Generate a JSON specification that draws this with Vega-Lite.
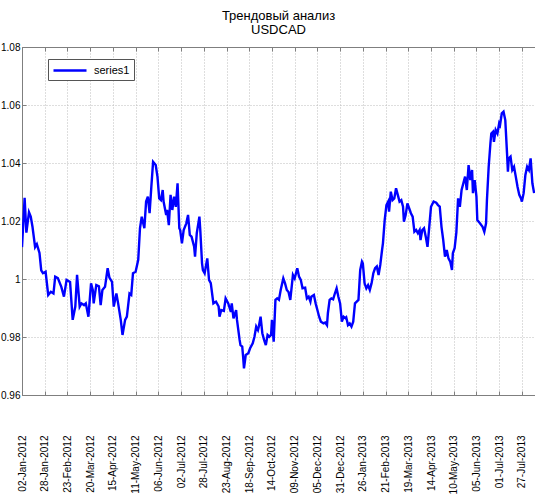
{
  "$schema": "https://vega.github.io/schema/vega-lite/v6.json",
  "width": 513,
  "height": 348,
  "autosize": {"type": "none"},
  "padding": {"left": 22, "top": 47, "right": 0, "bottom": 100},
  "background": "white",
  "config": {
    "font": "Liberation Sans",
    "view": {"stroke": "#7f7f7f", "strokeWidth": 1},
    "axis": {
      "domainColor": "#7f7f7f",
      "tickColor": "#7f7f7f",
      "gridColor": "#bdbdbd",
      "gridDash": [1, 2],
      "gridWidth": 1,
      "labelColor": "#000000",
      "labelFont": "Liberation Sans",
      "labelFontSize": 10,
      "tickSize": -4,
      "title": null
    }
  },
  "title": {
    "text": ["Трендовый анализ", "USDCAD"],
    "fontSize": 13,
    "fontWeight": "normal",
    "font": "Liberation Sans",
    "lineHeight": 14,
    "offset": 5,
    "anchor": "middle",
    "color": "#000000"
  },
  "data": {
    "values": [
      {"date": "2012-01-02", "value": 1.011},
      {"date": "2012-01-05", "value": 1.028},
      {"date": "2012-01-07", "value": 1.016},
      {"date": "2012-01-10", "value": 1.023},
      {"date": "2012-01-12", "value": 1.0215},
      {"date": "2012-01-14", "value": 1.018},
      {"date": "2012-01-17", "value": 1.011},
      {"date": "2012-01-19", "value": 1.012},
      {"date": "2012-01-22", "value": 1.009},
      {"date": "2012-01-24", "value": 1.003},
      {"date": "2012-01-26", "value": 1.002},
      {"date": "2012-01-29", "value": 1.0025},
      {"date": "2012-02-01", "value": 0.9945},
      {"date": "2012-02-04", "value": 0.9956},
      {"date": "2012-02-07", "value": 0.995},
      {"date": "2012-02-09", "value": 1.0008},
      {"date": "2012-02-12", "value": 1.0003},
      {"date": "2012-02-16", "value": 0.9973},
      {"date": "2012-02-19", "value": 0.9939},
      {"date": "2012-02-22", "value": 0.9997},
      {"date": "2012-02-26", "value": 0.999},
      {"date": "2012-02-29", "value": 0.9859},
      {"date": "2012-03-03", "value": 0.9905},
      {"date": "2012-03-05", "value": 1.0014},
      {"date": "2012-03-08", "value": 0.9905},
      {"date": "2012-03-10", "value": 0.9916},
      {"date": "2012-03-13", "value": 0.991},
      {"date": "2012-03-15", "value": 0.9916},
      {"date": "2012-03-18", "value": 0.987},
      {"date": "2012-03-21", "value": 0.9985},
      {"date": "2012-03-23", "value": 0.9962},
      {"date": "2012-03-24", "value": 0.9916},
      {"date": "2012-03-27", "value": 0.9979},
      {"date": "2012-03-30", "value": 0.9975},
      {"date": "2012-04-01", "value": 0.991},
      {"date": "2012-04-03", "value": 0.9962},
      {"date": "2012-04-06", "value": 0.9973},
      {"date": "2012-04-09", "value": 1.0037},
      {"date": "2012-04-11", "value": 1.0005},
      {"date": "2012-04-14", "value": 0.999},
      {"date": "2012-04-16", "value": 0.9905},
      {"date": "2012-04-19", "value": 0.995},
      {"date": "2012-04-21", "value": 0.9916},
      {"date": "2012-04-24", "value": 0.9859},
      {"date": "2012-04-26", "value": 0.9807},
      {"date": "2012-04-29", "value": 0.9859},
      {"date": "2012-05-01", "value": 0.987},
      {"date": "2012-05-04", "value": 0.995},
      {"date": "2012-05-06", "value": 0.9945},
      {"date": "2012-05-08", "value": 1.002},
      {"date": "2012-05-11", "value": 1.0025},
      {"date": "2012-05-14", "value": 1.0066},
      {"date": "2012-05-16", "value": 1.0175},
      {"date": "2012-05-18", "value": 1.0215},
      {"date": "2012-05-21", "value": 1.0175},
      {"date": "2012-05-23", "value": 1.0267},
      {"date": "2012-05-25", "value": 1.0284},
      {"date": "2012-05-27", "value": 1.0227},
      {"date": "2012-05-29", "value": 1.0318},
      {"date": "2012-05-31", "value": 1.0404},
      {"date": "2012-06-03", "value": 1.0393},
      {"date": "2012-06-05", "value": 1.0353},
      {"date": "2012-06-07", "value": 1.0278},
      {"date": "2012-06-09", "value": 1.0272},
      {"date": "2012-06-11", "value": 1.0307},
      {"date": "2012-06-12", "value": 1.0267},
      {"date": "2012-06-15", "value": 1.0221},
      {"date": "2012-06-16", "value": 1.0238},
      {"date": "2012-06-18", "value": 1.0186},
      {"date": "2012-06-20", "value": 1.029},
      {"date": "2012-06-22", "value": 1.0238},
      {"date": "2012-06-24", "value": 1.0284},
      {"date": "2012-06-26", "value": 1.0249},
      {"date": "2012-06-28", "value": 1.033},
      {"date": "2012-06-30", "value": 1.0175},
      {"date": "2012-07-01", "value": 1.0169},
      {"date": "2012-07-03", "value": 1.0123},
      {"date": "2012-07-05", "value": 1.0169},
      {"date": "2012-07-08", "value": 1.0192},
      {"date": "2012-07-10", "value": 1.0221},
      {"date": "2012-07-12", "value": 1.0152},
      {"date": "2012-07-14", "value": 1.0146},
      {"date": "2012-07-17", "value": 1.0111},
      {"date": "2012-07-18", "value": 1.0077},
      {"date": "2012-07-20", "value": 1.0158},
      {"date": "2012-07-23", "value": 1.0215},
      {"date": "2012-07-24", "value": 1.0169},
      {"date": "2012-07-26", "value": 1.0054},
      {"date": "2012-07-27", "value": 1.0031},
      {"date": "2012-07-29", "value": 1.002},
      {"date": "2012-08-01", "value": 1.0071},
      {"date": "2012-08-03", "value": 0.9997},
      {"date": "2012-08-05", "value": 0.9986},
      {"date": "2012-08-08", "value": 0.9916},
      {"date": "2012-08-11", "value": 0.9922},
      {"date": "2012-08-14", "value": 0.9905},
      {"date": "2012-08-15", "value": 0.987},
      {"date": "2012-08-17", "value": 0.9893},
      {"date": "2012-08-20", "value": 0.989},
      {"date": "2012-08-22", "value": 0.9933},
      {"date": "2012-08-25", "value": 0.9916},
      {"date": "2012-08-28", "value": 0.9887},
      {"date": "2012-08-29", "value": 0.9916},
      {"date": "2012-08-31", "value": 0.9864},
      {"date": "2012-09-03", "value": 0.9893},
      {"date": "2012-09-04", "value": 0.9859},
      {"date": "2012-09-07", "value": 0.979},
      {"date": "2012-09-08", "value": 0.9772},
      {"date": "2012-09-10", "value": 0.9767},
      {"date": "2012-09-11", "value": 0.9732},
      {"date": "2012-09-12", "value": 0.9692},
      {"date": "2012-09-14", "value": 0.9738},
      {"date": "2012-09-17", "value": 0.9744},
      {"date": "2012-09-19", "value": 0.9761},
      {"date": "2012-09-22", "value": 0.9778},
      {"date": "2012-09-24", "value": 0.9801},
      {"date": "2012-09-26", "value": 0.9836},
      {"date": "2012-09-28", "value": 0.9824},
      {"date": "2012-09-29", "value": 0.9836},
      {"date": "2012-10-01", "value": 0.987},
      {"date": "2012-10-03", "value": 0.9813},
      {"date": "2012-10-05", "value": 0.979},
      {"date": "2012-10-07", "value": 0.9772},
      {"date": "2012-10-09", "value": 0.9807},
      {"date": "2012-10-11", "value": 0.9801},
      {"date": "2012-10-13", "value": 0.9807},
      {"date": "2012-10-14", "value": 0.9859},
      {"date": "2012-10-16", "value": 0.9784},
      {"date": "2012-10-18", "value": 0.9928},
      {"date": "2012-10-20", "value": 0.9933},
      {"date": "2012-10-22", "value": 0.9928},
      {"date": "2012-10-24", "value": 0.9962},
      {"date": "2012-10-27", "value": 1.0002},
      {"date": "2012-10-29", "value": 0.9985},
      {"date": "2012-10-31", "value": 0.9962},
      {"date": "2012-11-02", "value": 0.9955},
      {"date": "2012-11-04", "value": 0.9928},
      {"date": "2012-11-06", "value": 0.9985},
      {"date": "2012-11-07", "value": 1.0014},
      {"date": "2012-11-09", "value": 1.0002},
      {"date": "2012-11-12", "value": 1.0037},
      {"date": "2012-11-14", "value": 1.0008},
      {"date": "2012-11-16", "value": 0.9997},
      {"date": "2012-11-18", "value": 0.9968},
      {"date": "2012-11-21", "value": 0.997},
      {"date": "2012-11-23", "value": 0.9933},
      {"date": "2012-11-25", "value": 0.9939},
      {"date": "2012-11-27", "value": 0.9922},
      {"date": "2012-11-28", "value": 0.9939},
      {"date": "2012-12-01", "value": 0.9945},
      {"date": "2012-12-03", "value": 0.9916},
      {"date": "2012-12-05", "value": 0.9893},
      {"date": "2012-12-07", "value": 0.987},
      {"date": "2012-12-09", "value": 0.9853},
      {"date": "2012-12-12", "value": 0.9847},
      {"date": "2012-12-14", "value": 0.985},
      {"date": "2012-12-16", "value": 0.9841},
      {"date": "2012-12-17", "value": 0.9882},
      {"date": "2012-12-19", "value": 0.9928},
      {"date": "2012-12-21", "value": 0.9933},
      {"date": "2012-12-23", "value": 0.993},
      {"date": "2012-12-25", "value": 0.995},
      {"date": "2012-12-27", "value": 0.9968},
      {"date": "2012-12-29", "value": 0.9939},
      {"date": "2012-12-31", "value": 0.9916},
      {"date": "2013-01-02", "value": 0.9853},
      {"date": "2013-01-04", "value": 0.987},
      {"date": "2013-01-06", "value": 0.9865},
      {"date": "2013-01-07", "value": 0.9868},
      {"date": "2013-01-09", "value": 0.9841},
      {"date": "2013-01-11", "value": 0.9847},
      {"date": "2013-01-13", "value": 0.9836},
      {"date": "2013-01-15", "value": 0.9853},
      {"date": "2013-01-17", "value": 0.9916},
      {"date": "2013-01-19", "value": 0.9922},
      {"date": "2013-01-21", "value": 0.9928},
      {"date": "2013-01-23", "value": 1.0031},
      {"date": "2013-01-25", "value": 1.006},
      {"date": "2013-01-26", "value": 1.0054},
      {"date": "2013-01-28", "value": 0.9985},
      {"date": "2013-01-30", "value": 0.9968},
      {"date": "2013-02-01", "value": 0.9979},
      {"date": "2013-02-03", "value": 0.9962},
      {"date": "2013-02-05", "value": 0.9985},
      {"date": "2013-02-07", "value": 1.002},
      {"date": "2013-02-09", "value": 1.0037},
      {"date": "2013-02-11", "value": 1.0043},
      {"date": "2013-02-13", "value": 1.0014},
      {"date": "2013-02-15", "value": 1.005},
      {"date": "2013-02-17", "value": 1.01},
      {"date": "2013-02-18", "value": 1.0123},
      {"date": "2013-02-20", "value": 1.0203},
      {"date": "2013-02-22", "value": 1.0255},
      {"date": "2013-02-24", "value": 1.0267},
      {"date": "2013-02-25", "value": 1.0232},
      {"date": "2013-02-27", "value": 1.0301},
      {"date": "2013-03-01", "value": 1.0272},
      {"date": "2013-03-03", "value": 1.0278},
      {"date": "2013-03-05", "value": 1.0313},
      {"date": "2013-03-07", "value": 1.029},
      {"date": "2013-03-09", "value": 1.0267},
      {"date": "2013-03-11", "value": 1.0272},
      {"date": "2013-03-13", "value": 1.0249},
      {"date": "2013-03-14", "value": 1.0198},
      {"date": "2013-03-16", "value": 1.0221},
      {"date": "2013-03-18", "value": 1.0261},
      {"date": "2013-03-20", "value": 1.0244},
      {"date": "2013-03-22", "value": 1.0227},
      {"date": "2013-03-24", "value": 1.0215},
      {"date": "2013-03-26", "value": 1.0163},
      {"date": "2013-03-28", "value": 1.0169},
      {"date": "2013-03-30", "value": 1.0158},
      {"date": "2013-04-01", "value": 1.0169},
      {"date": "2013-04-02", "value": 1.0134},
      {"date": "2013-04-04", "value": 1.0169},
      {"date": "2013-04-06", "value": 1.0175},
      {"date": "2013-04-08", "value": 1.0146},
      {"date": "2013-04-10", "value": 1.0111},
      {"date": "2013-04-12", "value": 1.018},
      {"date": "2013-04-14", "value": 1.0249},
      {"date": "2013-04-15", "value": 1.0255},
      {"date": "2013-04-17", "value": 1.0267},
      {"date": "2013-04-20", "value": 1.0263},
      {"date": "2013-04-22", "value": 1.0255},
      {"date": "2013-04-24", "value": 1.025},
      {"date": "2013-04-26", "value": 1.018},
      {"date": "2013-04-28", "value": 1.0134},
      {"date": "2013-04-30", "value": 1.0077},
      {"date": "2013-05-02", "value": 1.01},
      {"date": "2013-05-04", "value": 1.0071},
      {"date": "2013-05-06", "value": 1.006},
      {"date": "2013-05-08", "value": 1.0031},
      {"date": "2013-05-09", "value": 1.0089},
      {"date": "2013-05-11", "value": 1.0106},
      {"date": "2013-05-13", "value": 1.016},
      {"date": "2013-05-15", "value": 1.0278},
      {"date": "2013-05-17", "value": 1.0249},
      {"date": "2013-05-19", "value": 1.0307},
      {"date": "2013-05-21", "value": 1.033},
      {"date": "2013-05-23", "value": 1.0353},
      {"date": "2013-05-25", "value": 1.0307},
      {"date": "2013-05-27", "value": 1.0393},
      {"date": "2013-05-29", "value": 1.0341},
      {"date": "2013-05-31", "value": 1.0376},
      {"date": "2013-06-01", "value": 1.0296},
      {"date": "2013-06-03", "value": 1.0341},
      {"date": "2013-06-05", "value": 1.0284},
      {"date": "2013-06-06", "value": 1.0203},
      {"date": "2013-06-09", "value": 1.0192},
      {"date": "2013-06-12", "value": 1.018},
      {"date": "2013-06-14", "value": 1.0163},
      {"date": "2013-06-16", "value": 1.0192},
      {"date": "2013-06-17", "value": 1.0272},
      {"date": "2013-06-19", "value": 1.0387},
      {"date": "2013-06-21", "value": 1.0468},
      {"date": "2013-06-22", "value": 1.0502},
      {"date": "2013-06-24", "value": 1.0508},
      {"date": "2013-06-25", "value": 1.0473},
      {"date": "2013-06-27", "value": 1.0514},
      {"date": "2013-06-29", "value": 1.0502},
      {"date": "2013-07-01", "value": 1.0537},
      {"date": "2013-07-02", "value": 1.0531},
      {"date": "2013-07-04", "value": 1.0571},
      {"date": "2013-07-06", "value": 1.0577},
      {"date": "2013-07-08", "value": 1.0548},
      {"date": "2013-07-10", "value": 1.0433},
      {"date": "2013-07-11", "value": 1.037},
      {"date": "2013-07-12", "value": 1.0416},
      {"date": "2013-07-14", "value": 1.0422},
      {"date": "2013-07-16", "value": 1.0376},
      {"date": "2013-07-18", "value": 1.0387},
      {"date": "2013-07-20", "value": 1.0353},
      {"date": "2013-07-22", "value": 1.0318},
      {"date": "2013-07-24", "value": 1.029},
      {"date": "2013-07-26", "value": 1.0278},
      {"date": "2013-07-27", "value": 1.0267},
      {"date": "2013-07-29", "value": 1.0296},
      {"date": "2013-07-31", "value": 1.0359},
      {"date": "2013-08-02", "value": 1.0387},
      {"date": "2013-08-04", "value": 1.0376},
      {"date": "2013-08-06", "value": 1.0416},
      {"date": "2013-08-08", "value": 1.033},
      {"date": "2013-08-10", "value": 1.0296}
    ]
  },
  "layer": [
    {
      "mark": {"type": "line", "strokeWidth": 2.4, "clip": true},
      "encoding": {
        "x": {
          "field": "date",
          "type": "temporal",
          "scale": {
            "type": "utc",
            "domain": [
              {"year": 2012, "month": 1, "date": 2, "utc": true},
              {"year": 2013, "month": 8, "date": 11, "utc": true}
            ],
            "nice": false
          },
          "axis": {
            "orient": "bottom",
            "format": "%d-%b-%Y",
            "labelAngle": 270,
            "labelAlign": "right",
            "labelBaseline": "middle",
            "labelPadding": 44,
            "labelOverlap": false,
            "labelBound": false,
            "labelFlush": false,
            "grid": true,
            "values": [
              {"year": 2012, "month": 1, "date": 2, "utc": true},
              {"year": 2012, "month": 1, "date": 28, "utc": true},
              {"year": 2012, "month": 2, "date": 23, "utc": true},
              {"year": 2012, "month": 3, "date": 20, "utc": true},
              {"year": 2012, "month": 4, "date": 15, "utc": true},
              {"year": 2012, "month": 5, "date": 11, "utc": true},
              {"year": 2012, "month": 6, "date": 6, "utc": true},
              {"year": 2012, "month": 7, "date": 2, "utc": true},
              {"year": 2012, "month": 7, "date": 28, "utc": true},
              {"year": 2012, "month": 8, "date": 23, "utc": true},
              {"year": 2012, "month": 9, "date": 18, "utc": true},
              {"year": 2012, "month": 10, "date": 14, "utc": true},
              {"year": 2012, "month": 11, "date": 9, "utc": true},
              {"year": 2012, "month": 12, "date": 5, "utc": true},
              {"year": 2012, "month": 12, "date": 31, "utc": true},
              {"year": 2013, "month": 1, "date": 26, "utc": true},
              {"year": 2013, "month": 2, "date": 21, "utc": true},
              {"year": 2013, "month": 3, "date": 19, "utc": true},
              {"year": 2013, "month": 4, "date": 14, "utc": true},
              {"year": 2013, "month": 5, "date": 10, "utc": true},
              {"year": 2013, "month": 6, "date": 5, "utc": true},
              {"year": 2013, "month": 7, "date": 1, "utc": true},
              {"year": 2013, "month": 7, "date": 27, "utc": true}
            ]
          }
        },
        "y": {
          "field": "value",
          "type": "quantitative",
          "scale": {"domain": [0.96, 1.08], "zero": false, "nice": false},
          "axis": {
            "orient": "left",
            "values": [0.96, 0.98, 1, 1.02, 1.04, 1.06, 1.08],
            "format": "~g",
            "labelPadding": 6,
            "labelBound": false,
            "labelFlush": false,
            "grid": true
          }
        },
        "color": {
          "datum": "series1",
          "type": "nominal",
          "scale": {"range": ["#0000ff"]},
          "legend": {
            "title": null,
            "orient": "none",
            "legendX": 26,
            "legendY": 12,
            "padding": 4,
            "strokeColor": "#555555",
            "fillColor": "#ffffff",
            "cornerRadius": 0,
            "symbolType": "M-1,0H4.5",
            "symbolSize": 144,
            "symbolStrokeWidth": 2.5,
            "labelOffset": 27,
            "labelFontSize": 11,
            "labelColor": "#000000",
            "labelFont": "Liberation Sans"
          }
        }
      }
    },
    {
      "mark": {"type": "point", "opacity": 0},
      "encoding": {
        "x": {
          "field": "date",
          "type": "temporal",
          "axis": {
            "orient": "top",
            "labels": false,
            "grid": false,
            "values": [
              {"year": 2012, "month": 1, "date": 2, "utc": true},
              {"year": 2012, "month": 1, "date": 28, "utc": true},
              {"year": 2012, "month": 2, "date": 23, "utc": true},
              {"year": 2012, "month": 3, "date": 20, "utc": true},
              {"year": 2012, "month": 4, "date": 15, "utc": true},
              {"year": 2012, "month": 5, "date": 11, "utc": true},
              {"year": 2012, "month": 6, "date": 6, "utc": true},
              {"year": 2012, "month": 7, "date": 2, "utc": true},
              {"year": 2012, "month": 7, "date": 28, "utc": true},
              {"year": 2012, "month": 8, "date": 23, "utc": true},
              {"year": 2012, "month": 9, "date": 18, "utc": true},
              {"year": 2012, "month": 10, "date": 14, "utc": true},
              {"year": 2012, "month": 11, "date": 9, "utc": true},
              {"year": 2012, "month": 12, "date": 5, "utc": true},
              {"year": 2012, "month": 12, "date": 31, "utc": true},
              {"year": 2013, "month": 1, "date": 26, "utc": true},
              {"year": 2013, "month": 2, "date": 21, "utc": true},
              {"year": 2013, "month": 3, "date": 19, "utc": true},
              {"year": 2013, "month": 4, "date": 14, "utc": true},
              {"year": 2013, "month": 5, "date": 10, "utc": true},
              {"year": 2013, "month": 6, "date": 5, "utc": true},
              {"year": 2013, "month": 7, "date": 1, "utc": true},
              {"year": 2013, "month": 7, "date": 27, "utc": true}
            ]
          }
        }
      }
    }
  ],
  "resolve": {"axis": {"x": "independent"}}
}
